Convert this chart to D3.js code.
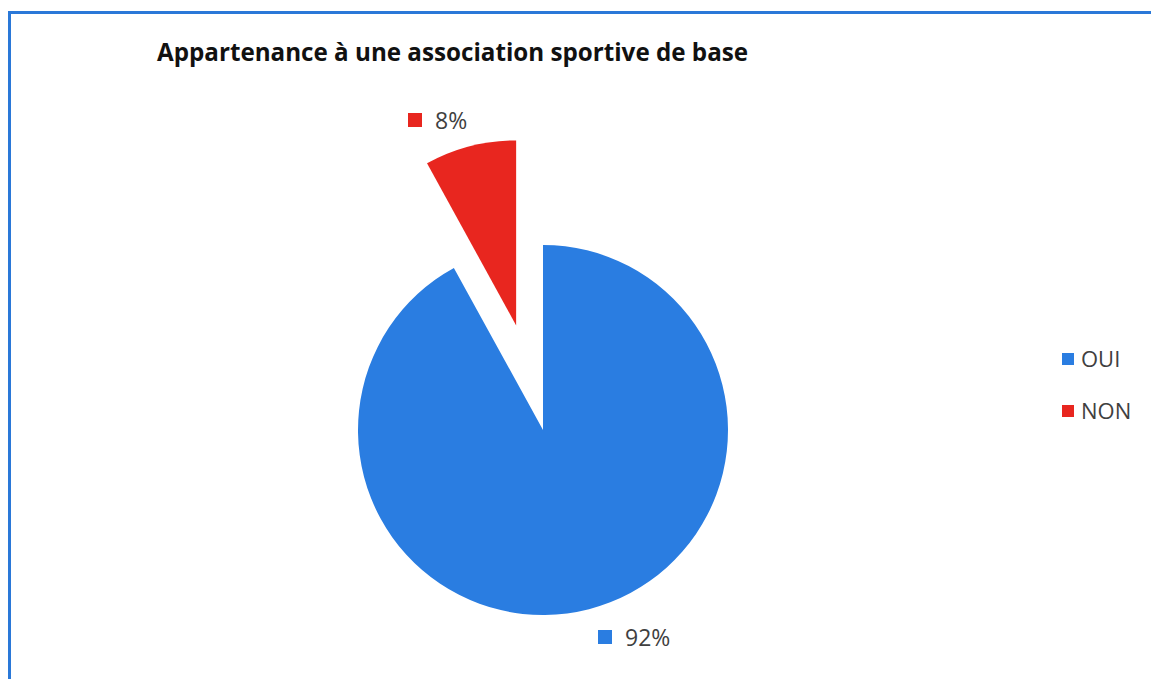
<!DOCTYPE html>
<html>
<head>
<meta charset="utf-8">
<script src="https://cdn.jsdelivr.net/npm/d3@7"></script>
<style>
  html, body { margin: 0; padding: 0; background: #fff; }
  svg { display: block; font-family: "Open Sans", "Noto Sans", sans-serif; }
</style>
</head>
<body>
<div id="chart"></div>
<script>
const categories = ['OUI', 'NON']
const values = [92, 8]
const labels = ['92%', '8%']
const colors = ['#2a7de1', '#e8261f']
const title = 'Appartenance à une association sportive de base'

const W = 1151, H = 679
const CX = 543, CY = 430, R = 185
const EXPLODE = 108

const svg = d3.select('#chart').append('svg')
  .attr('width', W)
  .attr('height', H)

// frame
svg.append('rect')
  .attr('x', 9.5).attr('y', 12.5)
  .attr('width', 1160).attr('height', 700)
  .attr('fill', 'none')
  .attr('stroke', '#2a78d8')
  .attr('stroke-width', 3)

svg.append('text')
  .attr('x', 157).attr('y', 61)
  .attr('font-size', 24.2)
  .attr('font-weight', 'bold')
  .attr('fill', '#111')
  .text(title)

// pie: NON slice ends at 12 o'clock, OUI starts there going clockwise
const data = categories.map((c, i) => ({ cat: c, value: values[i], label: labels[i], color: colors[i] }))
const pie = d3.pie().value(d => d.value).sort(null)
  .startAngle(0).endAngle(2 * Math.PI)
const arcs = pie(data)

const arc = d3.arc().innerRadius(0).outerRadius(R)

const g = svg.append('g').attr('transform', `translate(${CX},${CY})`)

g.selectAll('path').data(arcs).enter().append('path')
  .attr('d', arc)
  .attr('fill', d => d.data.color)
  .attr('transform', d => {
    if (d.data.cat !== 'NON') return null
    const mid = (d.startAngle + d.endAngle) / 2
    return `translate(${EXPLODE * Math.sin(mid)},${-EXPLODE * Math.cos(mid)})`
  })

// data labels
const labelPos = { OUI: [598, 637], NON: [408, 120] }
arcs.forEach(d => {
  const [x, y] = labelPos[d.data.cat]
  svg.append('rect')
    .attr('x', x).attr('y', y - 7)
    .attr('width', 14).attr('height', 14)
    .attr('fill', d.data.color)
  svg.append('text')
    .attr('x', x + 27).attr('y', y + 9)
    .attr('font-size', 23)
    .attr('fill', '#404040')
    .text(d.data.label)
})

// legend
const legend = svg.append('g').attr('transform', 'translate(1062,359)')
const items = legend.selectAll('g').data(data).enter().append('g')
  .attr('transform', (d, i) => `translate(0,${i * 52})`)
items.append('rect')
  .attr('x', 0).attr('y', -6)
  .attr('width', 12).attr('height', 12)
  .attr('fill', d => d.color)
items.append('text')
  .attr('x', 19).attr('y', 8)
  .attr('font-size', 22)
  .attr('fill', '#404040')
  .text(d => d.cat)
</script>
</body>
</html>
